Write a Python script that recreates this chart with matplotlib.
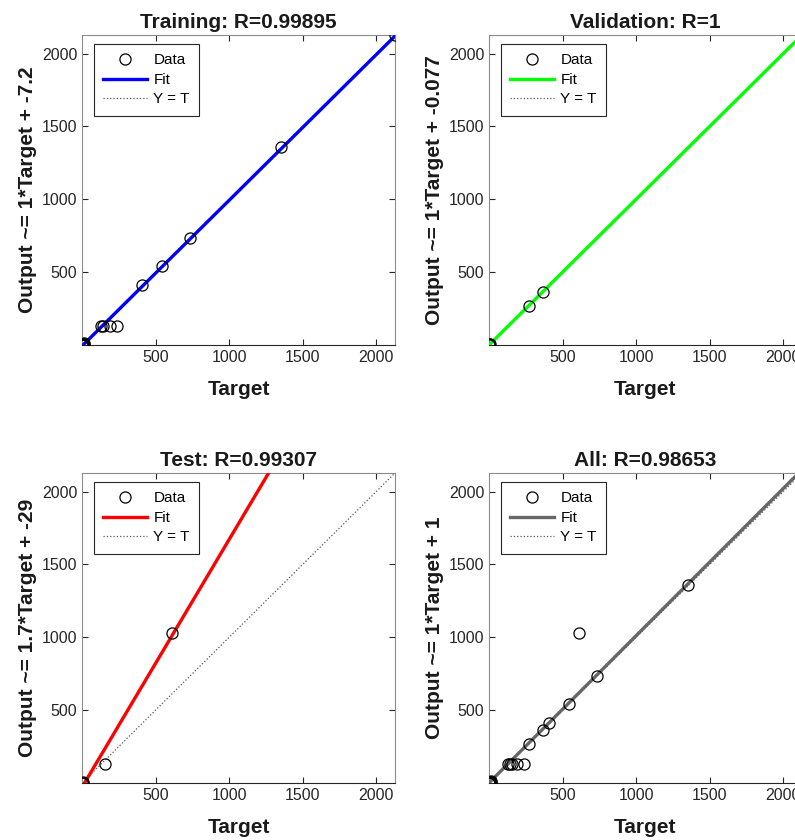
#Regression plots for training, validation, test and all data

#Importing libraries
import numpy as np
import matplotlib.pyplot as plt

plt.rcParams['font.family'] = ['Liberation Sans', 'DejaVu Sans']

#Targets and network outputs for each data set
train_t = [0, 2, 4, 6, 9, 12, 15, 126, 142, 190, 240, 410, 542, 736, 1355, 2128]
train_y = [1, 0, 5, 3, 8, 10, 14, 132, 132, 131, 132, 411, 541, 735, 1356, 2128]
val_t = [0, 3, 8, 273, 366]
val_y = [0, 4, 6, 270, 364]
test_t = [0, 5, 10, 157, 613]
test_y = [2, 1, 6, 132, 1033]

#Fit lines: slope and intercept
train_fit = [1.0, -7.2]
val_fit = [1.0, -0.077]
test_fit = [1.7, -29]
all_fit = [1.01, 1.0]

#Titles and labels
titles = ['Training: R=0.99895', 'Validation: R=1', 'Test: R=0.99307', 'All: R=0.98653']
ylabels = ['Output ~= 1*Target + -7.2', 'Output ~= 1*Target + -0.077',
           'Output ~= 1.7*Target + -29', 'Output ~= 1*Target + 1']
fit_colors = ['#0000ff', '#00ff00', '#ff0000', '#666666']

all_t = train_t + val_t + test_t
all_y = train_y + val_y + test_y

sets = [(train_t, train_y, train_fit), (val_t, val_y, val_fit),
        (test_t, test_y, test_fit), (all_t, all_y, all_fit)]

#Common axis limits
lo = min(min(all_t), min(all_y))
hi = max(max(all_t), max(all_y))

fig = plt.figure(figsize=(7.95, 8.40), dpi=100)

#Axes positions in figure pixels (left, bottom)
w, h = 313, 310
positions = [(82, 840 - 345), (489, 840 - 345), (82, 840 - 783), (489, 840 - 783)]

for i, (t, y, fit) in enumerate(sets):
    x0, y0 = positions[i]
    ax = fig.add_axes([x0 / 795, y0 / 840, w / 795, h / 840])
    xs = np.array([lo, hi])

    ax.plot(t, y, 'o', mfc='none', mec='black', ms=8, mew=0.9, label='Data', zorder=4)
    ax.plot(xs, fit[0] * xs + fit[1], color=fit_colors[i], lw=2.4, label='Fit', zorder=3)
    ax.plot(xs, xs, ':', color='#555555', lw=0.9, label='Y = T', zorder=2)

    ax.set_xlim(lo, hi)
    ax.set_ylim(lo, hi)
    ax.set_xticks([500, 1000, 1500, 2000])
    ax.set_yticks([500, 1000, 1500, 2000])
    ax.tick_params(direction='in', length=4, top=True, right=True,
                   labelsize=11.5, colors='#262626', width=0.8)

    for side in ['left', 'top', 'right']:
        ax.spines[side].set_color('#8c8c8c')
    ax.spines['bottom'].set_color('#262626')

    ax.set_title(titles[i], fontsize=15, fontweight='bold', color='#1a1a1a', pad=5)
    ax.set_xlabel('Target', fontsize=15, fontweight='bold', color='#1a1a1a', labelpad=11)
    ax.set_ylabel(ylabels[i], fontsize=15, fontweight='bold', color='#1a1a1a', labelpad=3)

    leg = ax.legend(loc='upper left', bbox_to_anchor=(0.038, 0.97), fontsize=11,
                    fancybox=False, framealpha=1, edgecolor='#262626',
                    handlelength=2.9, handletextpad=0.4, borderpad=0.6,
                    labelspacing=0.36, borderaxespad=0)
    leg.get_frame().set_linewidth(0.8)

plt.savefig('out.png', dpi=100)
plt.close()
